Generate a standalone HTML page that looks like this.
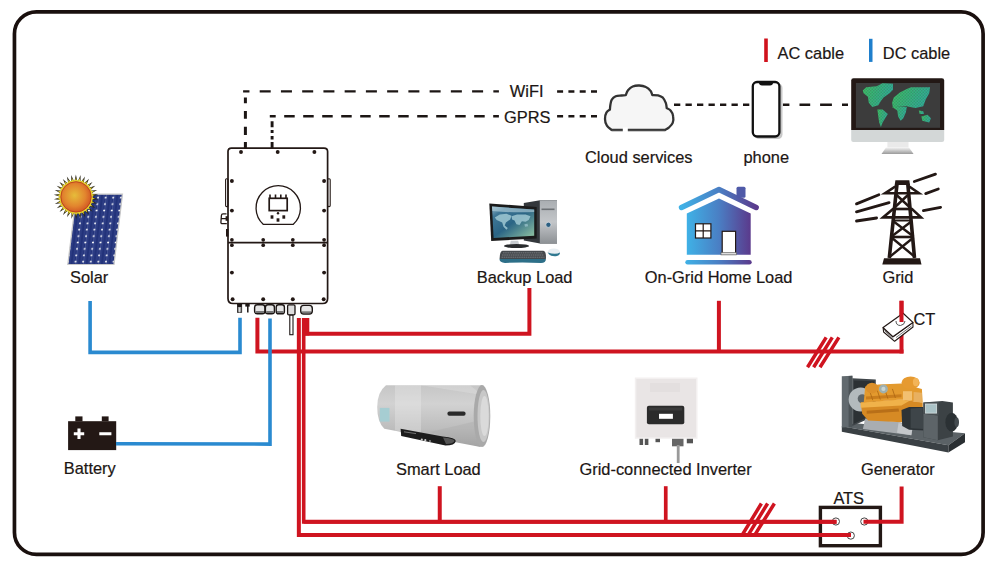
<!DOCTYPE html>
<html><head><meta charset="utf-8">
<style>
html,body{margin:0;padding:0;background:#fff;width:997px;height:569px;overflow:hidden}
svg{display:block}
text{font-family:"Liberation Sans",sans-serif;font-size:16.4px;fill:#1c1614;stroke:#1c1614;stroke-width:0.2px}
</style></head>
<body>
<svg width="997" height="569" viewBox="0 0 997 569">
<!-- frame -->
<rect x="14.45" y="11.85" width="968.65" height="542.55" rx="22" ry="22" fill="none" stroke="#1a100e" stroke-width="3.7"/>

<!-- legend -->
<rect x="764.2" y="38.5" width="3.6" height="23.5" fill="#d0121c"/>
<text x="777.5" y="59.3">AC cable</text>
<rect x="869" y="38.8" width="3.5" height="23.1" fill="#1f7fcc"/>
<text x="882.8" y="59.2">DC cable</text>

<!-- dashed comm lines -->
<g stroke="#1c1614" fill="none">
  <path d="M243.1 91.4 H498.9" stroke-width="2.4" stroke-dasharray="11 10.24" stroke-dashoffset="4.64"/>
  <path d="M245.4 97.6 V148" stroke-width="3" stroke-dasharray="5.7 7.7 7.7 8 8.3 6.9 6.5"/>
  <path d="M269.8 116.3 H498.9" stroke-width="2.4" stroke-dasharray="10.5 8.5" stroke-dashoffset="4.6"/>
  <path d="M272.1 121.3 V148" stroke-width="2.9" stroke-dasharray="6 2.8 2.9 2.9 3.7 2.5 6"/>
  <path d="M557.1 91.5 H597.2" stroke-width="2.5" stroke-dasharray="6 5.3"/>
  <path d="M557.1 116.3 H597.2" stroke-width="2.5" stroke-dasharray="6 5.3"/>
  <path d="M674 104.7 H750" stroke-width="2.5" stroke-dasharray="6.3 5.2"/>
  <path d="M782.9 104.7 H848" stroke-width="2.5" stroke-dasharray="6.5 10.1 10.7 9.9 11.8 10.1 6"/>
</g>
<text x="509.8" y="96.7">WiFI</text>
<text x="504" y="123.1">GPRS</text>
<text x="585" y="163.3">Cloud services</text>
<text x="743.5" y="163.3">phone</text>

<!-- labels -->
<text x="70" y="282.6">Solar</text>
<text x="476.8" y="282.9">Backup Load</text>
<text x="644.8" y="282.5">On-Grid Home Load</text>
<text x="882.4" y="282.7">Grid</text>
<text x="913.4" y="325.3">CT</text>
<text x="63.8" y="473.6">Battery</text>
<text x="396" y="475">Smart Load</text>
<text x="579.5" y="474.9">Grid-connected Inverter</text>
<text x="861" y="474.8">Generator</text>
<text x="833.4" y="503.5">ATS</text>


<!-- hybrid inverter -->
<g id="inv" fill="none" stroke="#231815">
  <path d="M228 151.5 Q228 148.1 231.5 148.1 H324 Q327.6 148.1 327.6 151.5 V298.5 Q327.6 303.5 322.6 303.5 H233 Q228 303.5 228 298.5 Z" stroke-width="1.7" fill="#fff"/>
  <path d="M228 242.6 H327.6" stroke-width="1.7"/>
  <rect x="225.6" y="178.8" width="2.4" height="27.8" rx="1" stroke-width="1.1"/>
  <rect x="327.6" y="178.8" width="2.6" height="27.8" rx="1" stroke-width="1.1"/>
  <path d="M263.4 224.4 A22.2 22.2 0 1 1 293.1 224.4 Z" stroke-width="1.3"/>
  <rect x="269.2" y="198.3" width="18" height="12.3" stroke-width="1.7"/>
  <path d="M270 194.5 V198 M275.5 194.5 V198 M280.8 194.5 V198 M286 194.5 V198" stroke-width="1.6"/>
  <path d="M226.5 213.9 H223 Q221.6 213.9 221.4 215.5 L220.9 222.2 Q220.8 223.6 222.4 223.6 H226.8 M221.2 218.7 H226.5" stroke-width="1.3"/>
  <path d="M227.2 229 V236.6" stroke-width="2.4"/>
  <path d="M226.8 216.2 V220.8" stroke-width="2.4"/>
</g>
<g fill="#231815">
  <circle cx="241" cy="152" r="1.95"/><circle cx="277.7" cy="152" r="1.95"/><circle cx="314.4" cy="152" r="1.95"/>
  <circle cx="231.9" cy="181" r="1.95"/><circle cx="324.1" cy="181" r="1.95"/>
  <circle cx="231.9" cy="210.6" r="1.95"/><circle cx="324.1" cy="210.6" r="1.95"/>
  <circle cx="231.9" cy="239.8" r="1.85"/><circle cx="263.2" cy="239.8" r="1.85"/><circle cx="292.8" cy="239.8" r="1.85"/><circle cx="324.1" cy="239.8" r="1.85"/>
  <circle cx="231.9" cy="245.2" r="1.85"/><circle cx="263.2" cy="245.2" r="1.85"/><circle cx="292.8" cy="245.2" r="1.85"/><circle cx="324.1" cy="245.2" r="1.85"/>
  <circle cx="231.9" cy="272.6" r="1.95"/><circle cx="324.1" cy="272.6" r="1.95"/>
  <circle cx="232.6" cy="299.2" r="1.95"/><circle cx="263.2" cy="299.2" r="1.95"/><circle cx="292.8" cy="299.2" r="1.95"/><circle cx="323.7" cy="299.2" r="1.95"/>
  <circle cx="278" cy="213.3" r="1.2"/>
  <rect x="270.6" y="215.3" width="2.8" height="3.4"/>
  <rect x="282.4" y="215.3" width="2.8" height="3.4"/>
  <rect x="276.6" y="218.3" width="2.8" height="3.4"/>
</g>
<!-- connectors under inverter -->
<g stroke="#1c1614" fill="#fff">
  <rect x="237.5" y="304.3" width="4.2" height="8" fill="#9a9a9a" stroke-width="0.8"/>
  <rect x="237.5" y="304" width="4.2" height="3" fill="#1c1614" stroke="none"/>
  <path d="M239.6 307.5 V312.3" stroke="#fff" stroke-width="0.7"/>
  <rect x="245.3" y="304" width="4.4" height="2.6" fill="#1c1614" stroke="none"/>
  <path d="M247.8 306 V312.5" stroke-width="1.5"/>
  <rect x="254.6" y="304.8" width="10.3" height="9" rx="2.6" fill="#e6e6e6" stroke-width="1.4"/>
  <rect x="265.4" y="304.8" width="9" height="9" rx="2.6" fill="#e6e6e6" stroke-width="1.4"/>
  <rect x="276.2" y="304.8" width="8.2" height="9" rx="2.4" fill="#e6e6e6" stroke-width="1.4"/>
  <path d="M255.5 312 H264 M266.3 312 H273.5 M277 312 H283.6" stroke="#777" stroke-width="2"/>
  <rect x="287.6" y="304.8" width="7.4" height="10" rx="1.2" fill="#ddd" stroke-width="1.3"/>
  <rect x="289.8" y="315.2" width="3.2" height="19.5" fill="#fff" stroke-width="1.1"/>
  <rect x="300.7" y="305.4" width="11.6" height="8.6" rx="3" fill="#e6e6e6" stroke-width="1.4"/>
  <path d="M302 312.3 H311" stroke="#777" stroke-width="2"/>
</g>


<defs>
  <linearGradient id="houseG" x1="0" x2="1" y1="0" y2="0">
    <stop offset="0" stop-color="#3fb1e6"/><stop offset="0.5" stop-color="#4a7fc4"/><stop offset="1" stop-color="#5b3a8c"/>
  </linearGradient>
  <radialGradient id="sunG" cx="0.45" cy="0.45" r="0.6">
    <stop offset="0" stop-color="#e6bc3a"/><stop offset="0.6" stop-color="#e2852e"/><stop offset="1" stop-color="#cf4f22"/>
  </radialGradient>
  <linearGradient id="scrG" x1="0" y1="0" x2="1" y2="1">
    <stop offset="0" stop-color="#1d4468"/><stop offset="0.55" stop-color="#3f7b92"/><stop offset="1" stop-color="#8fc0a8"/>
  </linearGradient>
  <linearGradient id="heatG" x1="0" y1="0" x2="0" y2="1">
    <stop offset="0" stop-color="#cfcfcf"/><stop offset="0.3" stop-color="#e6e6e6"/><stop offset="0.7" stop-color="#bdbdbd"/><stop offset="1" stop-color="#9c9c9c"/>
  </linearGradient>
  <linearGradient id="standG" x1="0" y1="0" x2="0" y2="1">
    <stop offset="0" stop-color="#f2f2f2"/><stop offset="1" stop-color="#9a9a9a"/>
  </linearGradient>
  <pattern id="cells" patternUnits="userSpaceOnUse" width="7.6" height="6.4" patternTransform="translate(68,194.5) skewX(-6.5)">
    <rect width="7.6" height="6.4" fill="#22327a"/>
    <path d="M1.9 0 V6.4 M5.7 0 V6.4" stroke="#4a5aa0" stroke-width="0.5"/>
    <path d="M0 0 V6.4" stroke="#a8b4e0" stroke-width="0.45"/>
    <circle cx="0" cy="3.2" r="1" fill="#fff"/><circle cx="7.6" cy="3.2" r="1" fill="#fff"/>
  </pattern>
</defs>

<!-- cloud -->
<path d="M611.7 130.0 C610.9 129.3 608.0 127.6 606.9 125.7 C605.7 123.9 605.0 121.3 605.0 119.0 C604.9 116.8 605.6 114.0 606.5 112.4 C607.3 110.8 609.3 110.0 609.9 109.5 C610.0 108.7 610.1 106.4 610.4 104.8 C610.7 103.1 610.9 101.0 611.8 99.6 C612.7 98.2 614.1 97.0 615.7 96.3 C617.3 95.6 619.8 95.7 621.5 95.5 C623.1 95.3 625.1 95.1 625.8 95.1 C626.1 94.3 626.9 91.7 628.0 90.3 C629.2 88.9 630.8 87.3 632.7 86.5 C634.6 85.7 637.1 85.4 639.3 85.5 C641.5 85.6 644.0 86.1 645.9 87.0 C647.7 87.8 649.5 89.4 650.5 90.8 C651.6 92.1 652.0 94.4 652.3 95.1 C653.3 95.1 656.3 95.0 658.1 95.4 C659.9 95.9 661.6 96.5 662.9 97.7 C664.2 99.0 665.1 101.2 665.8 102.9 C666.4 104.6 666.6 107.2 666.7 108.1 C667.4 108.5 669.6 109.1 670.6 110.5 C671.7 111.8 672.8 114.1 673.1 116.2 C673.5 118.3 673.4 121.0 672.7 122.9 C672.0 124.8 670.1 126.4 668.8 127.6 C667.5 128.8 665.6 129.6 665.0 130.0 Z" fill="#f6f6f6" stroke="#333" stroke-width="2.3" stroke-linejoin="round"/>
<path d="M611.5 130.3 H665.2" stroke="#555" stroke-width="1.2" opacity="0.7"/>
<rect x="622.8" y="127.5" width="5" height="5" fill="#fff"/>

<!-- phone -->
<rect x="754.5" y="83.5" width="28" height="55.5" rx="4.5" fill="#9a9a9a" opacity="0.55"/>
<rect x="752.8" y="82" width="26.6" height="54.5" rx="4.2" fill="#fff" stroke="#111" stroke-width="2.3"/>
<path d="M758.7 82 H773.4 Q772.8 85.5 770 85.5 H762 Q759.2 85.5 758.7 82 Z" fill="#111"/>

<!-- monitor -->
<path d="M851.2 80.5 Q851.2 78.2 853.5 78.2 H941.9 Q944.2 78.2 944.2 80.5 V129.9 H851.2 Z" fill="#231815"/>
<rect x="855.9" y="83" width="84.1" height="44.8" fill="#3c3c3c"/>
<defs>
  <linearGradient id="mapG" x1="0" y1="0" x2="1" y2="0.3">
    <stop offset="0" stop-color="#3fbe64"/><stop offset="0.5" stop-color="#38b27c"/><stop offset="1" stop-color="#32ac98"/>
  </linearGradient>
  <pattern id="mapTex" patternUnits="userSpaceOnUse" width="3" height="3">
    <rect x="0" y="0" width="1.5" height="1.5" fill="#3c3c3c" opacity="0.22"/>
    <rect x="1.5" y="1.5" width="1.5" height="1.5" fill="#1f6f40" opacity="0.3"/>
  </pattern>
</defs>
<g fill="url(#mapG)">
  <polygon points="862.8,90.6 866.2,87.2 876.6,86.3 882.6,83.3 893.0,83.7 893.0,89.8 889.5,93.2 883.5,97.5 880.9,101.0 878.3,105.3 872.3,107.0 868.8,102.7 867.9,96.7 863.6,93.2"/>
  <polygon points="877.4,109.6 882.6,109.6 887.8,113.9 885.2,118.2 882.6,122.6 880.9,126.9 879.2,122.6 878.3,116.5"/>
  <polygon points="893.8,97.5 899.9,92.4 906.8,88.9 911.1,87.2 930.1,87.2 929.2,93.2 925.8,99.3 923.2,106.2 915.4,107.9 910.2,107.0 906.8,106.2 899.9,106.2 893.0,107.9 892.1,102.7"/>
  <polygon points="892.1,107.0 899.9,106.2 906.8,107.0 905.9,112.2 903.3,118.2 900.7,120.8 898.1,116.5 897.3,110.5"/>
  <polygon points="921.4,116.5 927.5,114.8 930.9,118.2 929.2,122.6 922.3,120.8"/>
  <polygon points="918.8,110.5 923.2,111.3 924.0,113.9 919.7,113.9"/>
</g>
<g fill="url(#mapTex)">
  <polygon points="862.8,90.6 866.2,87.2 876.6,86.3 882.6,83.3 893.0,83.7 893.0,89.8 889.5,93.2 883.5,97.5 880.9,101.0 878.3,105.3 872.3,107.0 868.8,102.7 867.9,96.7 863.6,93.2"/>
  <polygon points="877.4,109.6 882.6,109.6 887.8,113.9 885.2,118.2 882.6,122.6 880.9,126.9 879.2,122.6 878.3,116.5"/>
  <polygon points="893.8,97.5 899.9,92.4 906.8,88.9 911.1,87.2 930.1,87.2 929.2,93.2 925.8,99.3 923.2,106.2 915.4,107.9 910.2,107.0 906.8,106.2 899.9,106.2 893.0,107.9 892.1,102.7"/>
  <polygon points="892.1,107.0 899.9,106.2 906.8,107.0 905.9,112.2 903.3,118.2 900.7,120.8 898.1,116.5 897.3,110.5"/>
  <polygon points="921.4,116.5 927.5,114.8 930.9,118.2 929.2,122.6 922.3,120.8"/>
  <polygon points="918.8,110.5 923.2,111.3 924.0,113.9 919.7,113.9"/>
</g>
<path d="M851.2 129.9 H944.2 V140 Q944.2 142 942 142 H853.4 Q851.2 142 851.2 140 Z" fill="#d3d7d7"/>
<rect x="887.4" y="142" width="21.1" height="5.6" fill="#eaeaea"/>
<path d="M886 147.6 H909 L913.6 154 H881.5 Z" fill="url(#standG)"/>

<!-- solar -->
<polygon points="76.5,194.2 122.5,194.2 114,264.5 67.8,264.5" fill="url(#cells)" stroke="#c8c8c8" stroke-width="1.2"/>
<g transform="translate(76,196.9)">
  <g fill="#2a2618"><polygon points="15.00,-0.07 22.19,2.23 14.69,3.05"/><polygon points="14.69,3.05 21.24,6.79 13.73,6.04"/><polygon points="13.73,6.04 19.36,11.06 12.18,8.76"/><polygon points="12.18,8.76 16.64,14.84 10.09,11.10"/><polygon points="10.09,11.10 13.19,17.98 7.56,12.95"/><polygon points="7.56,12.95 9.17,20.33 4.70,14.24"/><polygon points="4.70,14.24 4.74,21.79 1.64,14.91"/><polygon points="1.64,14.91 0.11,22.30 -1.50,14.93"/><polygon points="-1.50,14.93 -4.53,21.83 -4.57,14.29"/><polygon points="-4.57,14.29 -8.97,20.41 -7.44,13.03"/><polygon points="-7.44,13.03 -13.02,18.10 -9.98,11.19"/><polygon points="-9.98,11.19 -16.50,15.00 -12.09,8.87"/><polygon points="-12.09,8.87 -19.26,11.24 -13.67,6.17"/><polygon points="-13.67,6.17 -21.18,6.99 -14.66,3.19"/><polygon points="-14.66,3.19 -22.17,2.44 -15.00,0.07"/><polygon points="-15.00,0.07 -22.19,-2.23 -14.69,-3.05"/><polygon points="-14.69,-3.05 -21.24,-6.79 -13.73,-6.04"/><polygon points="-13.73,-6.04 -19.36,-11.06 -12.18,-8.76"/><polygon points="-12.18,-8.76 -16.64,-14.84 -10.09,-11.10"/><polygon points="-10.09,-11.10 -13.19,-17.98 -7.56,-12.95"/><polygon points="-7.56,-12.95 -9.17,-20.33 -4.70,-14.24"/><polygon points="-4.70,-14.24 -4.74,-21.79 -1.64,-14.91"/><polygon points="-1.64,-14.91 -0.11,-22.30 1.50,-14.93"/><polygon points="1.50,-14.93 4.53,-21.83 4.57,-14.29"/><polygon points="4.57,-14.29 8.97,-20.41 7.44,-13.03"/><polygon points="7.44,-13.03 13.02,-18.10 9.98,-11.19"/><polygon points="9.98,-11.19 16.50,-15.00 12.09,-8.87"/><polygon points="12.09,-8.87 19.26,-11.24 13.67,-6.17"/><polygon points="13.67,-6.17 21.18,-6.99 14.66,-3.19"/><polygon points="14.66,-3.19 22.17,-2.44 15.00,-0.07"/></g>
  <circle r="16.8" fill="#e2cf2c"/>
  <g fill="#e6d22e"><polygon points="14.50,0.01 19.10,1.92 14.21,2.87"/><polygon points="14.18,3.02 18.29,5.85 13.30,5.77"/><polygon points="13.24,5.90 16.67,9.52 11.82,8.41"/><polygon points="11.73,8.53 14.33,12.78 9.81,10.68"/><polygon points="9.70,10.78 11.36,15.48 7.37,12.48"/><polygon points="7.24,12.56 7.89,17.50 4.62,13.75"/><polygon points="4.47,13.79 4.08,18.76 1.66,14.40"/><polygon points="1.51,14.42 0.09,19.20 -1.37,14.43"/><polygon points="-1.52,14.42 -3.90,18.80 -4.34,13.83"/><polygon points="-4.49,13.79 -7.73,17.58 -7.12,12.63"/><polygon points="-7.26,12.55 -11.21,15.59 -9.59,10.87"/><polygon points="-9.71,10.77 -14.21,12.91 -11.65,8.64"/><polygon points="-11.74,8.52 -16.58,9.68 -13.19,6.03"/><polygon points="-13.25,5.89 -18.23,6.02 -14.15,3.16"/><polygon points="-14.18,3.01 -19.09,2.10 -14.50,0.14"/><polygon points="-14.50,-0.01 -19.10,-1.92 -14.21,-2.87"/><polygon points="-14.18,-3.02 -18.29,-5.85 -13.30,-5.77"/><polygon points="-13.24,-5.90 -16.67,-9.52 -11.82,-8.41"/><polygon points="-11.73,-8.53 -14.33,-12.78 -9.81,-10.68"/><polygon points="-9.70,-10.78 -11.36,-15.48 -7.37,-12.48"/><polygon points="-7.24,-12.56 -7.89,-17.50 -4.62,-13.75"/><polygon points="-4.47,-13.79 -4.08,-18.76 -1.66,-14.40"/><polygon points="-1.51,-14.42 -0.09,-19.20 1.37,-14.43"/><polygon points="1.52,-14.42 3.90,-18.80 4.34,-13.83"/><polygon points="4.49,-13.79 7.73,-17.58 7.12,-12.63"/><polygon points="7.26,-12.55 11.21,-15.59 9.59,-10.87"/><polygon points="9.71,-10.77 14.21,-12.91 11.65,-8.64"/><polygon points="11.74,-8.52 16.58,-9.68 13.19,-6.03"/><polygon points="13.25,-5.89 18.23,-6.02 14.15,-3.16"/><polygon points="14.18,-3.01 19.09,-2.10 14.50,-0.14"/></g>
  <circle r="15.2" fill="url(#sunG)" stroke="#b8401c" stroke-width="0.9"/>
</g>

<!-- backup load computer -->
<defs>
  <linearGradient id="towerG" x1="0" y1="0" x2="0" y2="1">
    <stop offset="0" stop-color="#a9adb1"/><stop offset="0.5" stop-color="#c3c6c9"/><stop offset="1" stop-color="#8d9195"/>
  </linearGradient>
  <linearGradient id="scr2" x1="0" y1="0" x2="1" y2="1">
    <stop offset="0" stop-color="#8fb3c6"/><stop offset="0.18" stop-color="#3f7796"/><stop offset="0.5" stop-color="#2b6585"/><stop offset="1" stop-color="#93c6a2"/>
  </linearGradient>
</defs>
<g>
  <path d="M523.8 203 L540 200.3 H557 V243.4 H540 L523.8 240.5 Z" fill="#34383c"/>
  <rect x="539.8" y="200.3" width="17.2" height="43.1" fill="url(#towerG)"/>
  <rect x="541.5" y="208.5" width="13" height="1.6" fill="#6d7175"/>
  <circle cx="548.4" cy="224.8" r="2.6" fill="#2c5f82" stroke="#dfe3e6" stroke-width="0.7"/>
  <path d="M489.3 203.4 L536.7 207.1 V238.5 L491.2 240.9 Z" fill="#1b1b1b"/>
  <path d="M492 206.5 L534.2 209.6 V235.8 L493.6 238 Z" fill="url(#scr2)"/>
  <path d="M492 206.5 L534.2 209.6 V212 Q512 213 492.3 211 Z" fill="#b9d3de" opacity="0.6"/>
  <path d="M494.8 217.5 L499.8 214.5 L506.5 213.8 L511.5 215.7 L510.2 219.4 L505.9 222.5 L504.7 225.5 L507.8 228.0 L506.5 229.8 L503.5 226.8 L502.2 222.5 L496.7 220.0 Z" fill="#9fc8d2" opacity="0.85"/>
  <path d="M511.5 216.3 L517.0 214.5 L525.6 214.5 L530.5 216.3 L528.7 220.0 L525.6 221.8 L521.9 221.2 L519.5 224.9 L516.4 224.3 L514.5 220.6 L512.1 219.4 Z" fill="#9fc8d2" opacity="0.85"/>
  <path d="M524.4 224.3 L527.5 223.7 L528.1 226.2 L525.0 226.8 Z" fill="#9fc8d2" opacity="0.7"/>
  <path d="M510.8 240.8 H518.2 L519.3 245.3 H509.8 Z" fill="#c8ccd0"/>
  <ellipse cx="516.5" cy="246" rx="12.5" ry="2" fill="#2a2c2e"/>
  <path d="M502.5 250.8 H543.3 Q546.4 251 545.9 259 H499.6 Q499.8 251 502.5 250.8 Z" fill="#45494d"/>
  <path d="M503 252.8 H543 M502 255 H544 M501.5 257.2 H544.5" stroke="#7a7e82" stroke-width="0.9" stroke-dasharray="1.6 0.6"/>
  <path d="M499.6 259 H545.9 Q546 262.5 541 263 Q522 262 505 263 Q499 262.5 499.6 259 Z" fill="#2d6f88"/>
  <ellipse cx="553.8" cy="252.3" rx="6.2" ry="3.8" fill="#e8eef2"/>
  <path d="M547.6 252.6 Q550 256.8 556 256.2 Q560 255.5 560 252.5 Q556 255 547.6 252.6 Z" fill="#2f7890"/>
</g>

<!-- house -->
<g>
  <path d="M681.5 207.5 L719 189.5 L756.2 207.5" fill="none" stroke="url(#houseG)" stroke-width="5.4" stroke-linecap="round" stroke-linejoin="round"/>
  <rect x="736.5" y="186.8" width="9" height="11" rx="1.5" fill="#4f5aa8"/>
  <path d="M719 198.6 L750.7 213.4 V254.7 H686.8 V213.4 Z" fill="url(#houseG)"/>
  <rect x="695.5" y="223.8" width="15.4" height="14.2" fill="#fff" stroke="#231815" stroke-width="1.2"/>
  <path d="M703.2 223.8 V238 M695.5 230.9 H710.9" stroke="#231815" stroke-width="1.2"/>
  <rect x="722.2" y="231.3" width="13.4" height="22.5" fill="#fff" stroke="#231815" stroke-width="1.2"/>
  <rect x="721" y="252.5" width="15.6" height="2.4" fill="#ddd" stroke="#555" stroke-width="0.6"/>
  <rect x="685.3" y="260" width="66.4" height="4.6" rx="2.3" fill="url(#houseG)"/>
</g>

<!-- grid tower -->
<g fill="none" stroke="#231815" stroke-linecap="butt" stroke-linejoin="miter">
  <path d="M856.5 203.9 L878.9 194.7 M856.5 211.9 L889.1 202.7 M856.5 221 L876.6 218 M914.3 181.5 L935.5 174.1 M925.7 193.6 L938.3 189 M923.4 210.7 L940.6 207.3" stroke-width="2.8" stroke-linecap="round"/>
  <path d="M897 184 L889.3 258 M907.8 184 L914.5 258" stroke-width="3.6"/>
  <path d="M896 186 L885 193.3 H919 L908.5 186" stroke-width="2.6"/>
  <path d="M893 209 L883 217.4 H921 L912 209 Z" stroke-width="2.6"/>
  <path d="M893 220.5 H912" stroke-width="2"/>
  <path d="M891.5 237 H913.5" stroke-width="2.6"/>
  <path d="M895.5 194 L910.5 208 M909 194 L894 208 M893 221 L913.5 236.5 M912 221 L891.5 236.5 M891.5 237.5 L915 257 M913.5 237.5 L889.5 257" stroke-width="2.4"/>
  <path d="M893 209 H912" stroke-width="2.2"/>
</g>
<path d="M895.4 180.2 H909.3 L910 185.1 H894.7 Z" fill="#231815"/>
<path d="M884 258.2 H920 L921.5 264.4 H882.3 Z" fill="#231815"/>

<!-- battery -->
<g fill="#231815">
  <rect x="75.3" y="416.4" width="7.2" height="5"/>
  <rect x="101.8" y="416.4" width="6.8" height="5"/>
  <rect x="68.1" y="421.2" width="48.1" height="28.9"/>
</g>
<path d="M73.8 433.7 H84.2 M79 428.5 V438.9 M99.3 433.7 H111.4" stroke="#fff" stroke-width="3.1"/>

<!-- smart load water heater -->
<defs>
  <linearGradient id="heatV" x1="0" y1="0" x2="0" y2="1">
    <stop offset="0" stop-color="#c6c6c6"/><stop offset="0.3" stop-color="#d2d2d2"/><stop offset="0.7" stop-color="#bdbdbd"/><stop offset="1" stop-color="#a2a2a2"/>
  </linearGradient>
</defs>
<g>
  <path d="M386 385.2 H482 L480.6 447 L384.3 428.7 Q377.2 422 377.2 407 Q377.2 392 386 385.2 Z" fill="url(#heatV)"/>
  <path d="M395 385.2 H421 V433.5 L395 430.4 Z" fill="#f2f2f2" opacity="0.3"/>
  <path d="M421 385.2 H470 L482 395 Z" fill="#e6e6e6" opacity="0.35"/>
  <path d="M430 432 L480.6 420 V447 Z" fill="#a9a9a9" opacity="0.35"/>
  <ellipse cx="482" cy="416.1" rx="8.3" ry="31" fill="#a9a9a9"/>
  <ellipse cx="483.5" cy="416.1" rx="6" ry="26" fill="#c8c8c8"/>
  <ellipse cx="484.5" cy="416.1" rx="4.2" ry="20" fill="#dadada"/>
  <rect x="379.8" y="407.9" width="9.7" height="13.7" fill="#a6cdd2"/>
  <rect x="447.4" y="411.6" width="18.2" height="4.1" rx="2" fill="#2a2a2a"/>
  <path d="M400.6 428.7 L442.8 436.5 Q455.8 437.5 455.8 441 Q455 445.6 445.4 445.6 L401.2 435.9 Z" fill="#1c1c1c"/>
  <path d="M443 437.5 Q454 438.5 454.5 441 Q453 444 446 444 Z" fill="#555"/>
  <path d="M404 431.8 L416 433.6" stroke="#888" stroke-width="0.8"/>
  <circle cx="421.8" cy="439.6" r="1.1" fill="#ccc"/><circle cx="425.3" cy="440.2" r="1.1" fill="#ccc"/><circle cx="430" cy="441" r="0.9" fill="#999"/>
</g>

<!-- grid-connected inverter -->
<g>
  <rect x="634.8" y="377.5" width="62.7" height="61.3" fill="#f3f0f0"/>
  <rect x="636.3" y="379" width="59.7" height="58.3" fill="#e9e5e5"/>
  <rect x="650" y="383" width="30" height="9" fill="#e3dfdf"/>
  <rect x="646.9" y="405.7" width="37.4" height="18.6" rx="2" fill="#2b2b2b"/>
  <rect x="649" y="407.5" width="33.2" height="3" fill="#3a3a3a"/>
  <rect x="659" y="413.8" width="13.9" height="5" fill="#fff"/>
  <rect x="639.5" y="438.8" width="3.6" height="6.2" fill="#555"/><rect x="644.8" y="438.8" width="3.6" height="6.2" fill="#555"/>
  <rect x="655.5" y="438.8" width="4.5" height="3.4" fill="#555"/>
  <rect x="672" y="438.8" width="11.5" height="7.5" fill="#666"/>
  <rect x="676.8" y="445" width="2.8" height="18" fill="#9a9a9a"/>
  <rect x="686.8" y="438.8" width="6.2" height="4.5" fill="#555"/>
</g>

<!-- generator -->
<g>
  <polygon points="841.8,426.2 855.4,423.2 965.0,433.2 948.4,445.3" fill="#5b6266"/>
  <polygon points="841.8,426.2 948.4,445.3 948.4,452.4 841.8,431.7" fill="#3a4044"/>
  <polygon points="948.4,445.3 965.0,433.2 965.0,442.3 948.4,452.4" fill="#2a2f32"/>
  <polygon points="841.8,376.3 852.4,375.7 852.4,427.1 841.8,427.4" fill="#626a6f"/>
  <polygon points="848.6,376.0 852.4,375.7 852.4,427.1 848.6,427.4" fill="#4c5357"/>
  <polygon points="852.4,378.3 875.8,379.4 875.8,415.4 852.4,425.9" fill="#3f4549"/>
  <polygon points="853.9,380.6 874.3,381.3 874.3,413.8 853.9,423.7" fill="#2c3134"/>
  <circle cx="860.7" cy="399.5" r="12.1" fill="#b3babd"/>
  <circle cx="862.2" cy="398.7" r="4.5" fill="#5d6569"/>
  <polygon points="865.2,418.4 900.0,422.2 912.8,426.2 911.3,435.3 862.9,429.0" fill="#a9adb1"/>
  <polygon points="898.5,422.9 912.8,426.2 911.3,435.3 897.0,432.7" fill="#c4c7ca"/>
  <polygon points="860.7,402.5 901.5,399.5 922.7,402.5 922.7,407.0 901.5,422.2 868.2,420.6 862.2,413.8" fill="#d68a24"/>
  <polygon points="860.7,402.5 901.5,399.5 909.1,401.0 901.5,405.5 860.7,407.8" fill="#f0b24a"/>
  <polygon points="866.7,410.8 898.5,408.5 899.2,411.6 866.7,413.8" fill="#b86f18"/>
  <polygon points="865.2,386.6 878.8,384.4 901.5,383.6 921.9,388.9 922.7,402.5 901.5,399.5 863.7,402.5" fill="#e39a2e"/>
  <polygon points="866.0,396.5 901.5,394.2 901.5,397.2 866.0,399.5" fill="#c97d1c"/>
  <polygon points="903.0,391.2 912.1,391.2 912.1,400.2 903.0,400.2" fill="#f2c070"/>
  <polygon points="913.6,391.9 921.9,392.7 921.9,402.5 913.6,401.7" fill="#e8b060"/>
  <path d="M869.7 391.2 L872.8 400.2 M877.3 390.4 L880.3 399.5 M884.9 389.7 L887.9 398.7 M892.4 388.9 L895.4 398.0" stroke="#b06a14" stroke-width="0.9"/>
  <ellipse cx="910.6" cy="382.8" rx="9.1" ry="6.3" fill="#e69a30"/>
  <ellipse cx="915.9" cy="382.1" rx="3.0" ry="4.2" fill="#f3b458"/>
  <ellipse cx="872.0" cy="388.1" rx="6.3" ry="5.3" fill="#dc902a"/>
  <ellipse cx="883.4" cy="388.9" rx="4.5" ry="4.5" fill="#9fb0ae"/>
  <ellipse cx="883.4" cy="388.9" rx="2.1" ry="2.1" fill="#c8d4d2"/>
  <polygon points="901.5,410.1 909.1,407.0 923.4,407.0 924.9,430.5 909.1,429.7 902.2,425.9" fill="#2c3236"/>
  <polygon points="910.6,408.5 922.7,407.8 923.4,429.0 910.6,428.2" fill="#3e4549"/>
  <polygon points="923.4,402.5 942.3,401.0 952.9,402.5 952.9,436.5 937.8,440.3 923.4,437.3" fill="#3c4245"/>
  <polygon points="923.4,413.8 937.8,415.4 937.8,440.3 923.4,437.3" fill="#5d6468"/>
  <polygon points="923.4,402.5 938.5,402.0 938.5,415.4 923.4,413.8" fill="#4a5154"/>
  <rect x="925.4" y="404.0" width="11.2" height="9.1" fill="#aac2c6" stroke="#d4dcde" stroke-width="0.8"/>
  <ellipse cx="951.7" cy="422.2" rx="6.3" ry="9.4" fill="#2b3134"/>
  <ellipse cx="956.7" cy="422.2" rx="2.3" ry="4.8" fill="#444b4f"/>
</g>

<!-- ATS -->
<rect x="820.4" y="507.4" width="60" height="38.3" fill="none" stroke="#231815" stroke-width="3.4"/>
<g fill="none" stroke="#333" stroke-width="0.9">
  <circle cx="835.9" cy="521.5" r="3.6"/>
  <circle cx="864.3" cy="521.5" r="3.6"/>
  <circle cx="850.8" cy="535.6" r="3.6"/>
</g>
<!-- AC cables -->
<g stroke="#cf1420" stroke-width="3.6" fill="none" stroke-linejoin="miter">
  <path d="M257.4 317.8 V351.45 H903.5" stroke-width="4"/>
  <path d="M901.5 300.8 V353.45" stroke-width="4"/>
  <path d="M718.9 300.8 V351" stroke-width="4"/>
  <path d="M529.4 288 V333.75 H305" stroke-width="4"/>
  <path d="M298.85 318 V535 H851" stroke-width="4"/>
  <path d="M303.7 318 V521.85 H836.5" stroke-width="3.6"/>
  <path d="M303.7 521.85 H836.5" stroke-width="4"/>
  <path d="M863.5 521.85 H901.6 V486.4" stroke-width="4"/>
  <path d="M439.75 486.2 V521" stroke-width="4"/>
  <path d="M665.75 486.2 V521" stroke-width="3.7"/>
</g>
<rect x="302" y="318" width="7.3" height="17.5" fill="#cf1420"/>
<!-- hash marks -->
<g stroke="#cf1420" stroke-width="3.5">
  <path d="M807.5 367.2 L826.2 337.4 M813.6 367.2 L832.3 337.4 M820 367.2 L838.9 337.4"/>
  <path d="M742.4 534.6 L761.4 503.5 M748.4 534.6 L767.6 503.5 M755 534.6 L774.4 503.5"/>
</g>
<!-- DC cables -->
<g stroke="#2a8ad0" stroke-width="3.6" fill="none" stroke-linejoin="miter" stroke-linecap="butt">
  <path d="M90.1 300.9 V352.4 H240 V317.8"/>
  <path d="M116 443.7 L270 444.1 V318.4"/>
</g>
<!-- CT -->
<g stroke="#231815" stroke-linejoin="round">
  <path d="M883.1 327.6 L892.9 336.7 L912.9 322.4 L913 327 L894.6 341.3 L883.6 332 Z" fill="#fff" stroke-width="1.1"/>
  <path d="M884.5 330.5 L893.5 339 M896 337.5 L911.5 326" stroke="#777" stroke-width="1"/>
  <path d="M883.1 327.6 L903.1 313.3 L912.9 322.4 L892.9 336.7 Z" fill="#fff" stroke-width="1.2"/>
  <path d="M896 321 Q896 325.5 900.5 325.5 Q904.5 325 905 321" fill="#fff" stroke="#555" stroke-width="1"/>
</g>
<rect x="899.5" y="300.8" width="4" height="21.2" fill="#cf1420"/>

</svg>
</body></html>
